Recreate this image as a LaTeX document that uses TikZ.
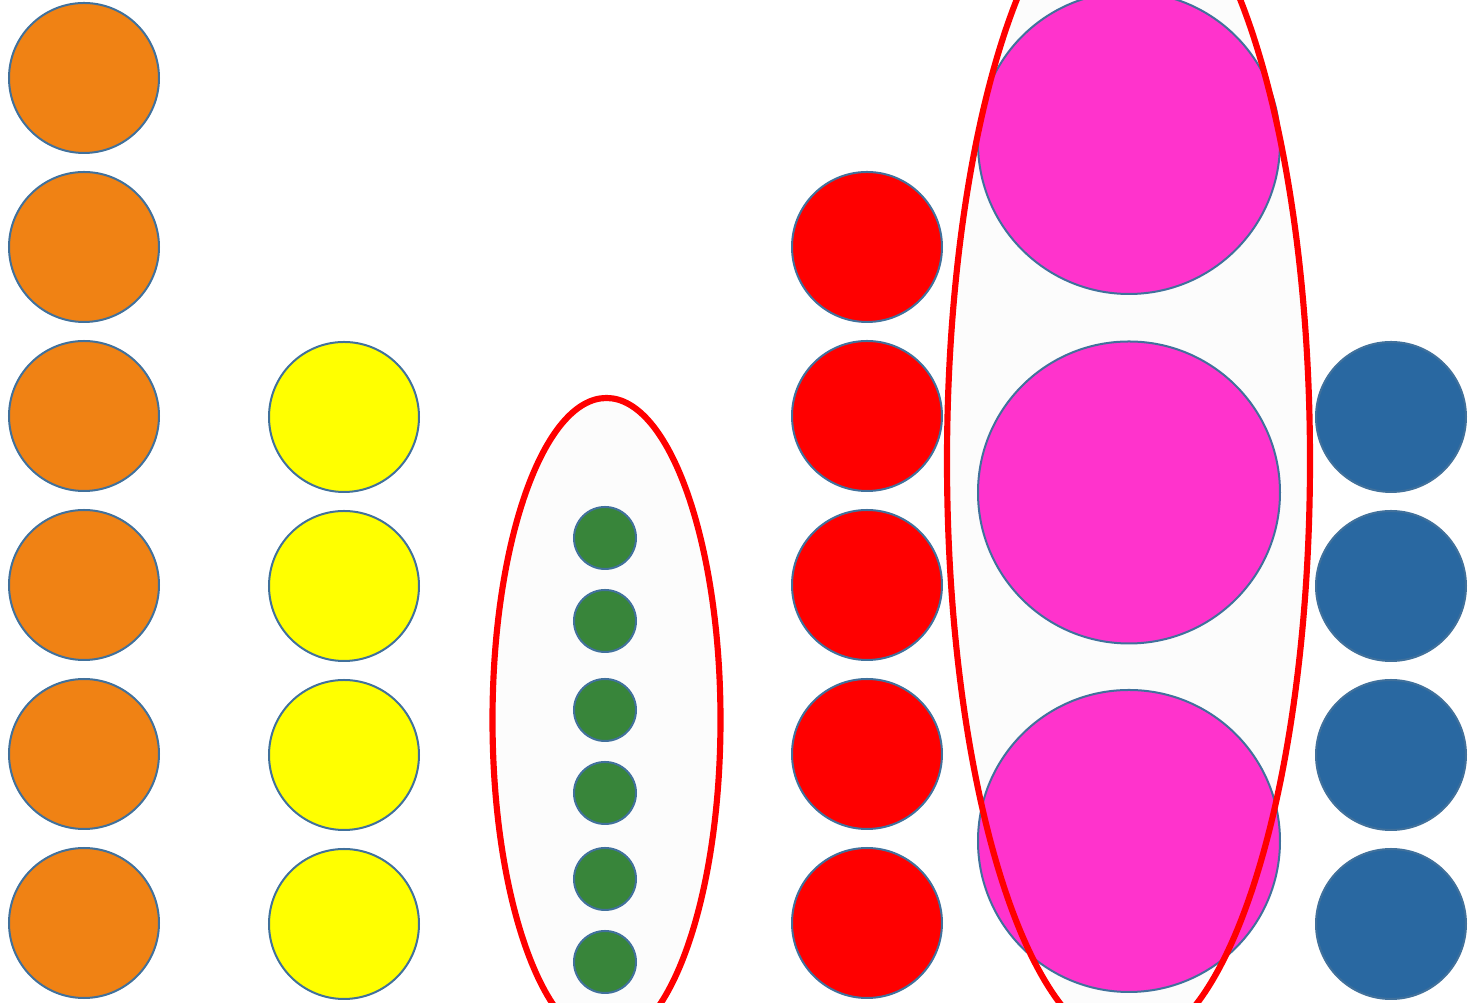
\documentclass[tikz,border=0pt]{standalone}
\usepackage{tikz}
\usetikzlibrary{shapes.geometric,positioning}

\definecolor{dotorange}{RGB}{240,130,20}
\definecolor{dotyellow}{RGB}{255,255,0}
\definecolor{dotgreen}{RGB}{56,133,58}
\definecolor{dotred}{RGB}{255,0,0}
\definecolor{dotpink}{RGB}{255,51,204}
\definecolor{dotblue}{RGB}{41,104,161}
\definecolor{rimblue}{RGB}{65,113,156}
\definecolor{groupfill}{RGB}{252,252,252}

\begin{document}
\begin{tikzpicture}[node distance=0.17cm, line width=0.57pt]
    \tikzset{
        dot/.style={circle, draw=rimblue, inner sep=0pt, minimum size=1.5cm},
        small dot/.style={circle, draw=rimblue, fill=dotgreen, inner sep=0pt, minimum size=0.62cm},
        big dot/.style={circle, draw=rimblue, fill=dotpink, inner sep=0pt, minimum size=3.02cm},
        group/.style={ellipse, fill=groupfill, inner sep=0pt},
        group rim/.style={ellipse, draw=dotred, line width=1.75pt, inner sep=0pt}
    }
    \useasboundingbox (0,0) rectangle (14.68,-10.03);
    \clip (0,0) rectangle (14.68,-10.03);

    % Groups (fill only)
    \node (grpA) [group, minimum width=2.28cm, minimum height=6.44cm] at (6.065,-7.20) {};
    \node (grpB) [group, minimum width=3.63cm, minimum height=11.71cm] at (11.285,-4.61) {};

    % Orange column
    \node (o1) [dot, fill=dotorange] at (0.84,-0.78) {};
    \node (o2) [dot, fill=dotorange, below=of o1] {};
    \node (o3) [dot, fill=dotorange, below=of o2] {};
    \node (o4) [dot, fill=dotorange, below=of o3] {};
    \node (o5) [dot, fill=dotorange, below=of o4] {};
    \node (o6) [dot, fill=dotorange, below=of o5] {};

    % Yellow column
    \node (y1) [dot, fill=dotyellow] at (3.44,-4.17) {};
    \node (y2) [dot, fill=dotyellow, below=of y1] {};
    \node (y3) [dot, fill=dotyellow, below=of y2] {};
    \node (y4) [dot, fill=dotyellow, below=of y3] {};

    % Green column
    \node (g1) [small dot] at (6.05,-5.38) {};
    \node (g2) [small dot] at (6.05,-6.21) {};
    \node (g3) [small dot] at (6.05,-7.10) {};
    \node (g4) [small dot] at (6.05,-7.93) {};
    \node (g5) [small dot] at (6.05,-8.79) {};
    \node (g6) [small dot] at (6.05,-9.62) {};

    % Red column
    \node (r1) [dot, fill=dotred] at (8.67,-2.47) {};
    \node (r2) [dot, fill=dotred, below=of r1] {};
    \node (r3) [dot, fill=dotred, below=of r2] {};
    \node (r4) [dot, fill=dotred, below=of r3] {};
    \node (r5) [dot, fill=dotred, below=of r4] {};

    % Pink column
    \node (p1) [big dot] at (11.29,-1.43) {};
    \node (p2) [big dot] at (11.29,-4.925) {};
    \node (p3) [big dot] at (11.29,-8.41) {};

    % Blue column
    \node (b1) [dot, fill=dotblue] at (13.91,-4.17) {};
    \node (b2) [dot, fill=dotblue, below=of b1] {};
    \node (b3) [dot, fill=dotblue, below=of b2] {};
    \node (b4) [dot, fill=dotblue, below=of b3] {};

    % Group outlines
    \node (rimA) [group rim, minimum width=2.28cm, minimum height=6.44cm] at (grpA) {};
    \node (rimB) [group rim, minimum width=3.63cm, minimum height=11.71cm] at (grpB) {};
\end{tikzpicture}
\end{document}
